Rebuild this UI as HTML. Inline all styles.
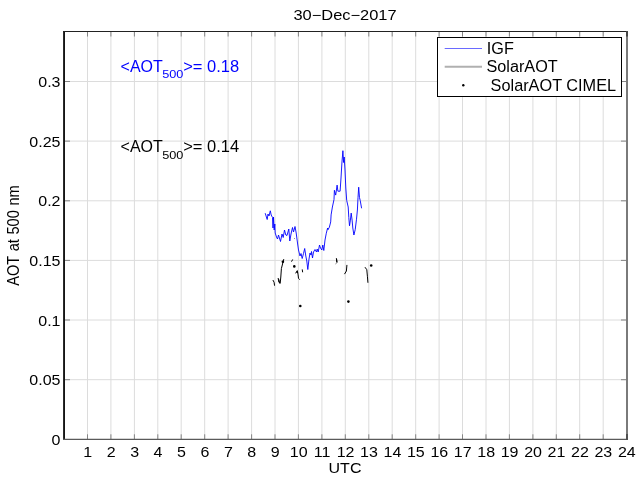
<!DOCTYPE html>
<html><head><meta charset="utf-8"><title>30-Dec-2017</title>
<style>html,body{margin:0;padding:0;background:#fff;width:640px;height:480px;overflow:hidden}svg{display:block}text{font-family:"Liberation Sans",Arial,Helvetica,sans-serif}</style></head><body>
<div style="width:640px;height:480px;will-change:transform">
<svg width="640" height="480" viewBox="0 0 640 480">
<rect width="640" height="480" fill="#fff"/>
<g stroke="#dcdcdc" stroke-width="1" fill="none">
<line x1="87.5" y1="31.5" x2="87.5" y2="439.3"/>
<line x1="110.9" y1="31.5" x2="110.9" y2="439.3"/>
<line x1="134.4" y1="31.5" x2="134.4" y2="439.3"/>
<line x1="157.8" y1="31.5" x2="157.8" y2="439.3"/>
<line x1="181.2" y1="31.5" x2="181.2" y2="439.3"/>
<line x1="204.7" y1="31.5" x2="204.7" y2="439.3"/>
<line x1="228.1" y1="31.5" x2="228.1" y2="439.3"/>
<line x1="251.6" y1="31.5" x2="251.6" y2="439.3"/>
<line x1="275.0" y1="31.5" x2="275.0" y2="439.3"/>
<line x1="298.4" y1="31.5" x2="298.4" y2="439.3"/>
<line x1="321.9" y1="31.5" x2="321.9" y2="439.3"/>
<line x1="345.3" y1="31.5" x2="345.3" y2="439.3"/>
<line x1="368.8" y1="31.5" x2="368.8" y2="439.3"/>
<line x1="392.2" y1="31.5" x2="392.2" y2="439.3"/>
<line x1="415.7" y1="31.5" x2="415.7" y2="439.3"/>
<line x1="439.1" y1="31.5" x2="439.1" y2="439.3"/>
<line x1="462.5" y1="31.5" x2="462.5" y2="439.3"/>
<line x1="486.0" y1="31.5" x2="486.0" y2="439.3"/>
<line x1="509.4" y1="31.5" x2="509.4" y2="439.3"/>
<line x1="532.9" y1="31.5" x2="532.9" y2="439.3"/>
<line x1="556.3" y1="31.5" x2="556.3" y2="439.3"/>
<line x1="579.7" y1="31.5" x2="579.7" y2="439.3"/>
<line x1="603.2" y1="31.5" x2="603.2" y2="439.3"/>
<line x1="64.0" y1="379.7" x2="627.0" y2="379.7"/>
<line x1="64.0" y1="320.0" x2="627.0" y2="320.0"/>
<line x1="64.0" y1="260.4" x2="627.0" y2="260.4"/>
<line x1="64.0" y1="200.8" x2="627.0" y2="200.8"/>
<line x1="64.0" y1="141.1" x2="627.0" y2="141.1"/>
<line x1="64.0" y1="81.5" x2="627.0" y2="81.5"/>
</g>
<g stroke="#858585" stroke-width="1" fill="none">
<line x1="87.5" y1="31.5" x2="87.5" y2="36.5"/>
<line x1="87.5" y1="439.3" x2="87.5" y2="434.3"/>
<line x1="110.9" y1="31.5" x2="110.9" y2="36.5"/>
<line x1="110.9" y1="439.3" x2="110.9" y2="434.3"/>
<line x1="134.4" y1="31.5" x2="134.4" y2="36.5"/>
<line x1="134.4" y1="439.3" x2="134.4" y2="434.3"/>
<line x1="157.8" y1="31.5" x2="157.8" y2="36.5"/>
<line x1="157.8" y1="439.3" x2="157.8" y2="434.3"/>
<line x1="181.2" y1="31.5" x2="181.2" y2="36.5"/>
<line x1="181.2" y1="439.3" x2="181.2" y2="434.3"/>
<line x1="204.7" y1="31.5" x2="204.7" y2="36.5"/>
<line x1="204.7" y1="439.3" x2="204.7" y2="434.3"/>
<line x1="228.1" y1="31.5" x2="228.1" y2="36.5"/>
<line x1="228.1" y1="439.3" x2="228.1" y2="434.3"/>
<line x1="251.6" y1="31.5" x2="251.6" y2="36.5"/>
<line x1="251.6" y1="439.3" x2="251.6" y2="434.3"/>
<line x1="275.0" y1="31.5" x2="275.0" y2="36.5"/>
<line x1="275.0" y1="439.3" x2="275.0" y2="434.3"/>
<line x1="298.4" y1="31.5" x2="298.4" y2="36.5"/>
<line x1="298.4" y1="439.3" x2="298.4" y2="434.3"/>
<line x1="321.9" y1="31.5" x2="321.9" y2="36.5"/>
<line x1="321.9" y1="439.3" x2="321.9" y2="434.3"/>
<line x1="345.3" y1="31.5" x2="345.3" y2="36.5"/>
<line x1="345.3" y1="439.3" x2="345.3" y2="434.3"/>
<line x1="368.8" y1="31.5" x2="368.8" y2="36.5"/>
<line x1="368.8" y1="439.3" x2="368.8" y2="434.3"/>
<line x1="392.2" y1="31.5" x2="392.2" y2="36.5"/>
<line x1="392.2" y1="439.3" x2="392.2" y2="434.3"/>
<line x1="415.7" y1="31.5" x2="415.7" y2="36.5"/>
<line x1="415.7" y1="439.3" x2="415.7" y2="434.3"/>
<line x1="439.1" y1="31.5" x2="439.1" y2="36.5"/>
<line x1="439.1" y1="439.3" x2="439.1" y2="434.3"/>
<line x1="462.5" y1="31.5" x2="462.5" y2="36.5"/>
<line x1="462.5" y1="439.3" x2="462.5" y2="434.3"/>
<line x1="486.0" y1="31.5" x2="486.0" y2="36.5"/>
<line x1="486.0" y1="439.3" x2="486.0" y2="434.3"/>
<line x1="509.4" y1="31.5" x2="509.4" y2="36.5"/>
<line x1="509.4" y1="439.3" x2="509.4" y2="434.3"/>
<line x1="532.9" y1="31.5" x2="532.9" y2="36.5"/>
<line x1="532.9" y1="439.3" x2="532.9" y2="434.3"/>
<line x1="556.3" y1="31.5" x2="556.3" y2="36.5"/>
<line x1="556.3" y1="439.3" x2="556.3" y2="434.3"/>
<line x1="579.7" y1="31.5" x2="579.7" y2="36.5"/>
<line x1="579.7" y1="439.3" x2="579.7" y2="434.3"/>
<line x1="603.2" y1="31.5" x2="603.2" y2="36.5"/>
<line x1="603.2" y1="439.3" x2="603.2" y2="434.3"/>
<line x1="64.0" y1="379.7" x2="70.0" y2="379.7"/>
<line x1="627.0" y1="379.7" x2="621.0" y2="379.7"/>
<line x1="64.0" y1="320.0" x2="70.0" y2="320.0"/>
<line x1="627.0" y1="320.0" x2="621.0" y2="320.0"/>
<line x1="64.0" y1="260.4" x2="70.0" y2="260.4"/>
<line x1="627.0" y1="260.4" x2="621.0" y2="260.4"/>
<line x1="64.0" y1="200.8" x2="70.0" y2="200.8"/>
<line x1="627.0" y1="200.8" x2="621.0" y2="200.8"/>
<line x1="64.0" y1="141.1" x2="70.0" y2="141.1"/>
<line x1="627.0" y1="141.1" x2="621.0" y2="141.1"/>
<line x1="64.0" y1="81.5" x2="70.0" y2="81.5"/>
<line x1="627.0" y1="81.5" x2="621.0" y2="81.5"/>
</g>
<polyline fill="none" stroke="#0000ff" stroke-width="0.9" stroke-linejoin="miter" stroke-miterlimit="6" points="265.2,213.2 267.2,219.5 268.0,214.0 269.0,216.0 270.3,210.8 271.2,215.0 272.5,217.5 273.0,228.0 273.5,217.0 274.2,230.0 274.8,224.0 275.2,233.0 276.5,237.0 277.5,239.0 278.5,235.0 280.5,241.5 282.0,234.0 283.2,237.5 284.5,230.0 285.8,235.0 287.0,235.5 288.8,229.0 289.8,241.0 291.0,234.0 292.5,227.5 293.5,232.0 295.0,226.5 296.2,233.0 297.5,243.0 298.5,250.0 300.0,256.0 301.0,253.5 302.2,258.5 303.5,253.5 304.7,248.5 305.8,256.0 306.8,261.0 307.8,269.5 309.0,259.0 310.0,253.0 311.0,255.0 311.5,251.5 312.5,258.0 313.5,252.0 315.0,249.5 316.5,252.0 317.2,249.0 318.2,252.0 319.5,245.0 320.5,248.0 321.8,250.0 322.8,245.0 323.8,250.5 325.0,240.0 326.3,233.2 327.6,228.0 328.0,229.7 329.4,227.1 330.7,221.9 331.1,214.9 332.4,207.0 334.0,199.5 334.4,190.3 335.7,195.1 337.1,185.1 337.9,191.2 340.1,191.2 341.0,178.0 341.9,163.0 342.9,150.7 343.6,162.5 344.2,157.0 345.0,170.0 345.8,188.0 346.7,200.4 348.2,207.0 348.8,217.5 349.5,225.8 350.4,220.1 351.2,213.1 352.1,220.1 352.8,228.0 353.9,235.0 355.2,229.7 356.5,219.2 357.4,210.0 358.0,197.7 358.7,187.2 359.5,197.7 360.2,200.4 361.6,208.3"/>
<g fill="none" stroke="#000" stroke-width="1" stroke-linejoin="round" stroke-linecap="round">
<polyline points="273.1,280.4 274.1,282.3 274.5,285.3"/>
<polyline points="278.2,278.4 278.9,282.3 280.2,283.3 280.8,277.0 281.4,268.5 282.3,265.0 283.0,261.9 283.7,259.5"/>
<polyline points="278.8,279.5 279.7,282.9"/>
<polyline points="291.7,261.3 292.5,259.8"/>
<polyline points="295.8,273.0 297.3,270.6 298.1,274.9 298.5,278.3 299.5,279.4"/>
<polyline points="296.7,272.2 297.7,272.6"/>
<polyline points="302.3,269.8 302.6,271.9"/>
<polyline points="336.4,258.6 336.9,262.2"/>
<polyline points="336.6,259.2 336.9,261.8"/>
<polyline points="346.9,265.3 346.4,271.0 344.7,273.8"/>
<polyline points="365.2,267.5 366.8,269.7 367.4,276.2 367.9,282.4"/>
</g>
<rect x="294" y="238" width="1" height="1" fill="#999"/>
<line x1="336.9" y1="262.2" x2="335.6" y2="264.3" stroke="#777" stroke-width="0.8"/>
<g fill="#000">
<circle cx="282.9" cy="261.8" r="1.3"/>
<circle cx="294.3" cy="266.4" r="1.3"/>
<circle cx="300.3" cy="306.0" r="1.3"/>
<circle cx="348.4" cy="301.6" r="1.3"/>
<circle cx="371.2" cy="265.5" r="1.3"/>
</g>
<line x1="64.05" y1="31" x2="64.05" y2="440" stroke="#151515" stroke-width="1.9"/>
<line x1="63" y1="31.5" x2="627.5" y2="31.5" stroke="#222" stroke-width="1"/>
<line x1="63" y1="439.3" x2="628" y2="439.3" stroke="#5a5a5a" stroke-width="1.3"/>
<line x1="627" y1="31" x2="627" y2="440" stroke="#7a7a7a" stroke-width="2"/>
<line x1="627" y1="31" x2="627" y2="36.5" stroke="#444" stroke-width="2"/>
<line x1="627" y1="434" x2="627" y2="440" stroke="#505050" stroke-width="2"/>
<text transform="translate(87.69,456.70) scale(1.165,1)" font-size="13.75" text-anchor="middle">1</text>
<text transform="translate(111.13,456.70) scale(1.165,1)" font-size="13.75" text-anchor="middle">2</text>
<text transform="translate(134.57,456.70) scale(1.165,1)" font-size="13.75" text-anchor="middle">3</text>
<text transform="translate(158.01,456.70) scale(1.165,1)" font-size="13.75" text-anchor="middle">4</text>
<text transform="translate(181.45,456.70) scale(1.165,1)" font-size="13.75" text-anchor="middle">5</text>
<text transform="translate(204.89,456.70) scale(1.165,1)" font-size="13.75" text-anchor="middle">6</text>
<text transform="translate(228.33,456.70) scale(1.165,1)" font-size="13.75" text-anchor="middle">7</text>
<text transform="translate(251.77,456.70) scale(1.165,1)" font-size="13.75" text-anchor="middle">8</text>
<text transform="translate(275.21,456.70) scale(1.165,1)" font-size="13.75" text-anchor="middle">9</text>
<text transform="translate(298.65,456.70) scale(1.165,1)" font-size="13.75" text-anchor="middle">10</text>
<text transform="translate(322.09,456.70) scale(1.165,1)" font-size="13.75" text-anchor="middle">11</text>
<text transform="translate(345.53,456.70) scale(1.165,1)" font-size="13.75" text-anchor="middle">12</text>
<text transform="translate(368.97,456.70) scale(1.165,1)" font-size="13.75" text-anchor="middle">13</text>
<text transform="translate(392.41,456.70) scale(1.165,1)" font-size="13.75" text-anchor="middle">14</text>
<text transform="translate(415.85,456.70) scale(1.165,1)" font-size="13.75" text-anchor="middle">15</text>
<text transform="translate(439.29,456.70) scale(1.165,1)" font-size="13.75" text-anchor="middle">16</text>
<text transform="translate(462.73,456.70) scale(1.165,1)" font-size="13.75" text-anchor="middle">17</text>
<text transform="translate(486.17,456.70) scale(1.165,1)" font-size="13.75" text-anchor="middle">18</text>
<text transform="translate(509.61,456.70) scale(1.165,1)" font-size="13.75" text-anchor="middle">19</text>
<text transform="translate(533.05,456.70) scale(1.165,1)" font-size="13.75" text-anchor="middle">20</text>
<text transform="translate(556.49,456.70) scale(1.165,1)" font-size="13.75" text-anchor="middle">21</text>
<text transform="translate(579.93,456.70) scale(1.165,1)" font-size="13.75" text-anchor="middle">22</text>
<text transform="translate(603.37,456.70) scale(1.165,1)" font-size="13.75" text-anchor="middle">23</text>
<text transform="translate(626.81,456.70) scale(1.165,1)" font-size="13.75" text-anchor="middle">24</text>
<text transform="translate(60.50,444.90) scale(1.165,1)" font-size="13.75" text-anchor="end">0</text>
<text transform="translate(60.50,385.27) scale(1.165,1)" font-size="13.75" text-anchor="end">0.05</text>
<text transform="translate(60.50,325.63) scale(1.165,1)" font-size="13.75" text-anchor="end">0.1</text>
<text transform="translate(60.50,266.00) scale(1.165,1)" font-size="13.75" text-anchor="end">0.15</text>
<text transform="translate(60.50,206.36) scale(1.165,1)" font-size="13.75" text-anchor="end">0.2</text>
<text transform="translate(60.50,146.72) scale(1.165,1)" font-size="13.75" text-anchor="end">0.25</text>
<text transform="translate(60.50,87.09) scale(1.165,1)" font-size="13.75" text-anchor="end">0.3</text>
<text transform="translate(345.00,472.50) scale(1.165,1)" font-size="13.75" text-anchor="middle">UTC</text>
<text transform="translate(345.00,19.60) scale(1.195,1)" font-size="13.75" text-anchor="middle">30−Dec−2017</text>
<text transform="translate(19,235.5) rotate(-90) scale(1,1.07)" font-size="14.6" word-spacing="0.6" text-anchor="middle">AOT at 500 nm</text>
<g fill="#0000ff" font-size="16"><text x="120.6" y="71.6">&lt;AOT</text><text transform="translate(162.20,78.20) scale(1.2,1)" font-size="10.6">500</text><text transform="translate(183.20,71.60) scale(1.03,1)">&gt;= 0.18</text></g>
<g fill="#000" font-size="16"><text x="120.6" y="152.1">&lt;AOT</text><text transform="translate(162.20,158.70) scale(1.2,1)" font-size="10.6">500</text><text transform="translate(183.20,152.10) scale(1.03,1)">&gt;= 0.14</text></g>
<rect x="437.5" y="37.5" width="184" height="59" fill="#fff" stroke="#000" stroke-width="1"/>
<line x1="444.7" y1="48.5" x2="482" y2="48.5" stroke="#4444ff" stroke-width="0.8"/>
<line x1="444.7" y1="66.8" x2="482" y2="66.8" stroke="#b0b0b0" stroke-width="1.9"/>
<circle cx="463.3" cy="85.3" r="1.2" fill="#000"/>
<text transform="translate(486.80,53.80) scale(1.040,1)" font-size="15.60" text-anchor="start">IGF</text>
<text transform="translate(486.50,71.80) scale(1.040,1)" font-size="15.60" text-anchor="start">SolarAOT</text>
<text transform="translate(490.60,90.80) scale(1.045,1)" font-size="15.60" text-anchor="start">SolarAOT CIMEL</text>
</svg></div></body></html>
